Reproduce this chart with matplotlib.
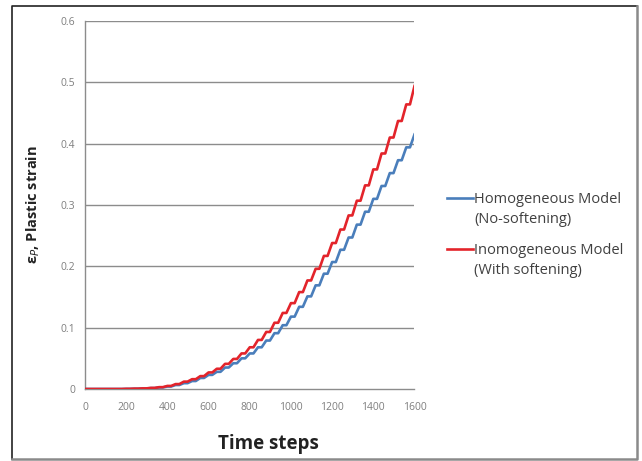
import numpy as np
import matplotlib
matplotlib.use("Agg")
import matplotlib.pyplot as plt
from matplotlib.lines import Line2D

plt.rcParams['font.family'] = ['Open Sans', 'DejaVu Sans']

# time step at the start of each stair (every 40 steps)
steps = list(range(0, 1601, 40))

# plastic strain, one value per stair
homog = [0, 0, 0, 0, 0, 0.0002, 0.0005, 0.0009, 0.0015, 0.0025,
         0.004, 0.0065, 0.0095, 0.013, 0.018, 0.023, 0.028, 0.035, 0.042, 0.050,
         0.058, 0.068, 0.079, 0.091, 0.104, 0.118, 0.134, 0.151, 0.169, 0.188,
         0.207, 0.227, 0.247, 0.268, 0.289, 0.310, 0.331, 0.352, 0.373, 0.394,
         0.415]
inhomog = [0, 0, 0, 0, 0, 0.0003, 0.0006, 0.001, 0.0018, 0.003,
           0.005, 0.008, 0.012, 0.016, 0.021, 0.027, 0.033, 0.041, 0.049, 0.058,
           0.068, 0.080, 0.093, 0.108, 0.124, 0.140, 0.158, 0.177, 0.196, 0.217,
           0.238, 0.260, 0.283, 0.307, 0.332, 0.358, 0.384, 0.410, 0.437, 0.464,
           0.494]

labels = ["Homogeneous Model\n(No-softening)", "Inomogeneous Model\n(With softening)"]
colors = ["#4A7EBB", "#E3242B"]
yticks = [0, 0.1, 0.2, 0.3, 0.4, 0.5, 0.6]
xticks = list(range(0, 1601, 200))


def stairs(t, v):
    # flat part of each stair, then a sloped rise to the next one
    xs, ys = [], []
    for i in range(len(t) - 1):
        flat = (t[i + 1] - t[i]) * 0.45
        xs += [t[i], t[i] + flat]
        ys += [v[i], v[i]]
    xs.append(t[-1])
    ys.append(v[-1])
    return xs, ys


fig = plt.figure(figsize=(6.42, 4.61), dpi=100)
ax = fig.add_axes([85 / 642, 1 - 389 / 461, 329.5 / 642, 368 / 461])

for yv in yticks[1:]:
    ax.axhline(yv, color="#8c8c8c", lw=1.0, zorder=1)

for v, c in zip([homog, inhomog], colors):
    xs, ys = stairs(steps, v)
    ax.plot(xs, ys, color=c, lw=1.9, zorder=3, solid_joinstyle="round")

ax.set_xlim(0, 1600)
ax.set_ylim(0, 0.6)
ax.set_xticks(xticks)
ax.set_yticks(yticks)
ax.set_yticklabels(["0", "0.1", "0.2", "0.3", "0.4", "0.5", "0.6"])
ax.tick_params(length=0, labelsize=7.5, labelcolor="#7f7f7f")
ax.tick_params(axis="y", pad=7)
ax.tick_params(axis="x", pad=9)
for s in ["top", "right"]:
    ax.spines[s].set_visible(False)
for s in ["left", "bottom"]:
    ax.spines[s].set_color("#8c8c8c")
    ax.spines[s].set_linewidth(1.0)

fig.text(33 / 642, 1 - 205 / 461, r"ε$_P$, Plastic strain", rotation=90,
         ha="center", va="center", fontsize=10.5, fontweight="bold", color="#222222")
fig.text(268 / 642, 1 - 444 / 461, "Time steps", ha="center", va="center",
         fontsize=13.5, fontweight="bold", color="#222222")

# legend drawn by hand to match the Excel layout
leg_y = [198, 249]
for lab, c, yy in zip(labels, colors, leg_y):
    fy = 1 - yy / 461
    fig.add_artist(Line2D([447 / 642, 473 / 642], [fy, fy], color=c, lw=1.9))
    fig.text(474 / 642, fy + 6 / 461, lab, ha="left", va="top", fontsize=10.5,
             color="#404040", linespacing=1.45)

# outer frame
fig.add_artist(Line2D([12 / 642, 12 / 642, 637 / 642], [1 - 459 / 461, 1 - 6 / 461, 1 - 6 / 461],
                      color="#222222", lw=1.2))
fig.add_artist(Line2D([12 / 642, 637 / 642, 637 / 642], [1 - 459 / 461, 1 - 459 / 461, 1 - 6 / 461],
                      color="#8a8a8a", lw=1.8))

fig.savefig("out.png", dpi=100)
